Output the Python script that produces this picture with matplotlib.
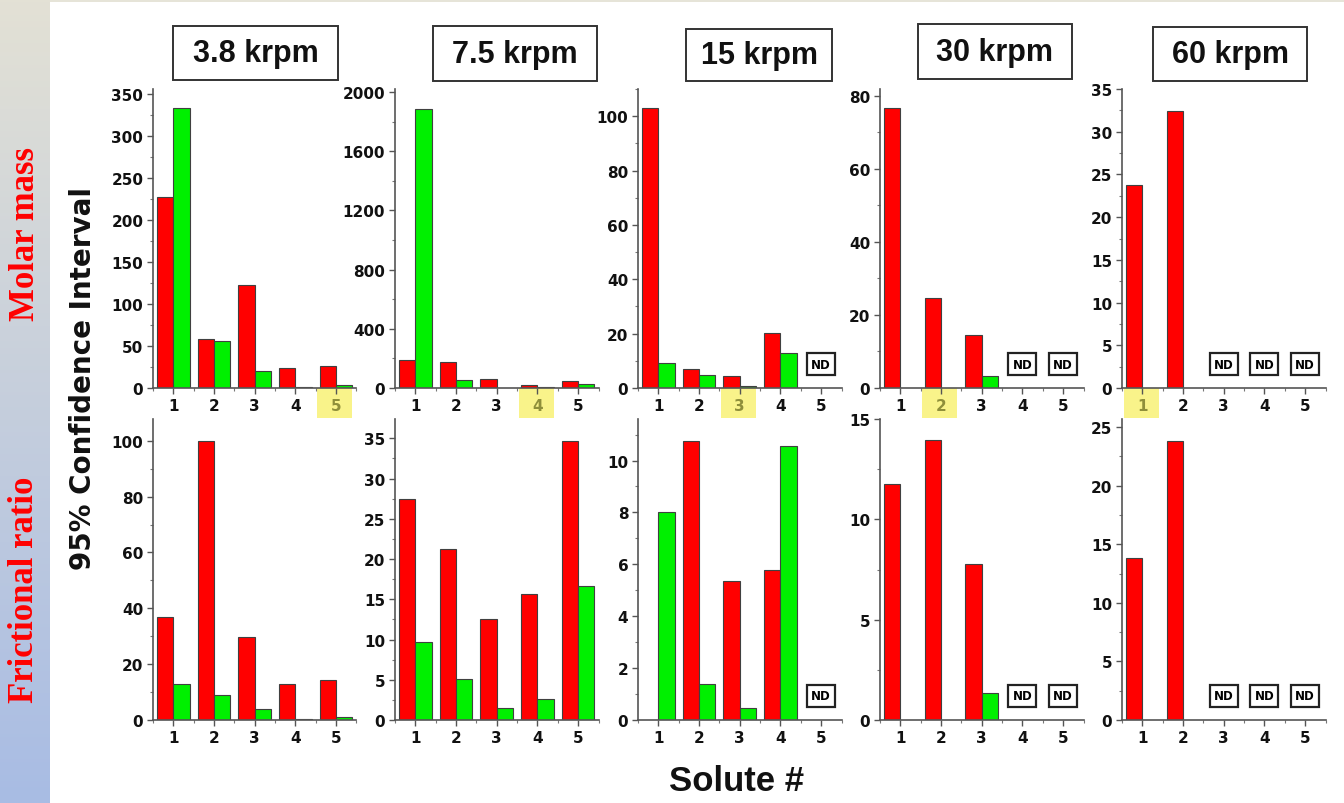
import numpy as np
import matplotlib.pyplot as plt
import matplotlib.transforms as mtransforms
from matplotlib.patches import Rectangle
from matplotlib.ticker import MultipleLocator

plt.rcParams['font.family'] = ['DejaVu Sans']
plt.rcParams['font.weight'] = 'bold'

nan = np.nan

speeds = ['3.8 krpm', '7.5 krpm', '15 krpm', '30 krpm', '60 krpm']
solutes = [1, 2, 3, 4, 5]

# 95% confidence intervals, molar mass (top row)
molar_red = [
    [228, 58, 123, 24, 26],
    [186, 175, 58, 22, 47],
    [103, 6.9, 4.3, 20.2, nan],
    [76.5, 24.6, 14.4, nan, nan],
    [23.8, 32.4, nan, nan, nan],
]
molar_green = [
    [333, 55.5, 20, 1, 3],
    [1888, 52, nan, 5, 25],
    [9.3, 4.9, 0.7, 13, nan],
    [nan, nan, 3.2, nan, nan],
    [nan, nan, nan, nan, nan],
]
# 95% confidence intervals, frictional ratio (bottom row)
frict_red = [
    [37, 100, 29.7, 13, 14.2],
    [27.5, 21.2, 12.5, 15.6, 34.7],
    [nan, 10.77, 5.34, 5.78, nan],
    [11.78, 13.95, 7.75, nan, nan],
    [13.8, 23.86, nan, nan, nan],
]
frict_green = [
    [13, 9.1, 4.1, 0.3, 1.2],
    [9.7, 5.1, 1.45, 2.6, 16.7],
    [8.0, 1.38, 0.48, 10.55, nan],
    [nan, nan, 1.33, nan, nan],
    [nan, nan, nan, nan, nan],
]
not_determined = [[], [], [5], [4, 5], [3, 4, 5]]
highlight = [5, 4, 3, 2, 1]

molar_ymax = [356, 2020, 110, 81.8, 35]
molar_step = [50, 400, 20, 20, 5]
frict_ymax = [107.8, 37.4, 11.6, 15, 25.7]
frict_step = [20, 5, 2, 5, 5]

W, H = 1344, 804
fig = plt.figure(figsize=(W / 100, H / 100), dpi=100)


def px_axes(left, bottom, width, height):
    return fig.add_axes([left / W, 1 - bottom / H, width / W, height / H])


# side strip with gradient
strip = fig.add_axes([0, 0, 50 / W, 1])
top_c = np.array([227, 225, 213]) / 255
bot_c = np.array([168, 188, 228]) / 255
g = np.linspace(0, 1, 256)[:, None, None]
strip.imshow(top_c * (1 - g) + bot_c * g, aspect='auto', extent=[0, 1, 0, 1])
strip.axis('off')
fig.add_artist(Rectangle((50 / W, 1 - 3 / H), 1, 3 / H, transform=fig.transFigure,
                         facecolor='#e6e4d8', edgecolor='none'))

fig.text(25 / W, 1 - 234 / H, 'Molar mass', rotation=90, ha='center', va='center',
         color='#ff0000', fontsize=25, family='Liberation Serif', fontweight='bold')
fig.text(25 / W, 1 - 590 / H, 'Frictional ratio', rotation=90, ha='center', va='center',
         color='#ff0000', fontsize=25, family='Liberation Serif', fontweight='bold')

fig.text(83 / W, 1 - 378 / H, '95% Confidence Interval', rotation=90, ha='center',
         va='center', fontsize=20, color='#111111')
fig.text(736 / W, 1 - 782 / H, 'Solute #', ha='center', va='center', fontsize=25,
         family='Liberation Sans', color='#111111')

# speed title boxes (left, top, right, bottom in pixels)
title_boxes = [(173, 27, 338, 81), (433, 27, 597, 82), (686, 30, 832, 82),
               (918, 25, 1072, 80), (1153, 28, 1307, 82)]
for name, (l, t, r, b) in zip(speeds, title_boxes):
    fig.add_artist(Rectangle((l / W, 1 - b / H), (r - l) / W, (b - t) / H,
                             transform=fig.transFigure, facecolor='white',
                             edgecolor='#333333', linewidth=1.4))
    fig.text((l + r) / 2 / W, 1 - (t + b) / 2 / H, name, ha='center', va='center',
             fontsize=22, family='Liberation Sans', color='#111111')

lefts = [153, 395, 638, 880, 1122]
rows = [
    (389, 299, molar_red, molar_green, molar_ymax, molar_step),
    (721, 301, frict_red, frict_green, frict_ymax, frict_step),
]
x = np.array(solutes)
for row, (bottom, height, reds, greens, ymaxs, steps) in enumerate(rows):
    for col in range(5):
        ax = px_axes(lefts[col], bottom, 203.5, height)
        ax.bar(x - 0.2, reds[col], 0.4, color='#ff0000', edgecolor='#404040', linewidth=0.8)
        ax.bar(x + 0.2, greens[col], 0.4, color='#00f000', edgecolor='#404040', linewidth=0.8)
        ax.set_xlim(0.5, 5.5)
        ax.set_ylim(0, ymaxs[col])
        ax.set_xticks(solutes)
        ax.xaxis.set_minor_locator(MultipleLocator(0.5))
        ax.yaxis.set_major_locator(MultipleLocator(steps[col]))
        ax.yaxis.set_minor_locator(MultipleLocator(steps[col] / 2))
        for side in ['top', 'right']:
            ax.spines[side].set_visible(False)
        for side in ['left', 'bottom']:
            ax.spines[side].set_color('#555555')
            ax.spines[side].set_linewidth(1.2)
        ax.tick_params(which='major', length=4, width=1, color='#555555',
                       labelsize=11, pad=3, labelcolor='#111111')
        ax.tick_params(which='minor', length=2.5, width=0.8, color='#777777')

        trans = mtransforms.blended_transform_factory(ax.transData, ax.transAxes)
        for s in not_determined[col]:
            ax.text(s, 0.08, 'ND', transform=trans, ha='center', va='center', fontsize=8.5,
                    bbox=dict(boxstyle='square,pad=0.35', facecolor='white',
                              edgecolor='#222222', linewidth=1.6))
        if row == 0:
            h = highlight[col]
            ax.add_patch(Rectangle((h - 0.46, -0.1), 0.86, 0.1, transform=trans,
                                   facecolor='#f9f38a', edgecolor='none',
                                   clip_on=False, zorder=0.5))
            ax.get_xticklabels()[h - 1].set_color('#8f8f3a')

fig.savefig('out.png', dpi=100)
